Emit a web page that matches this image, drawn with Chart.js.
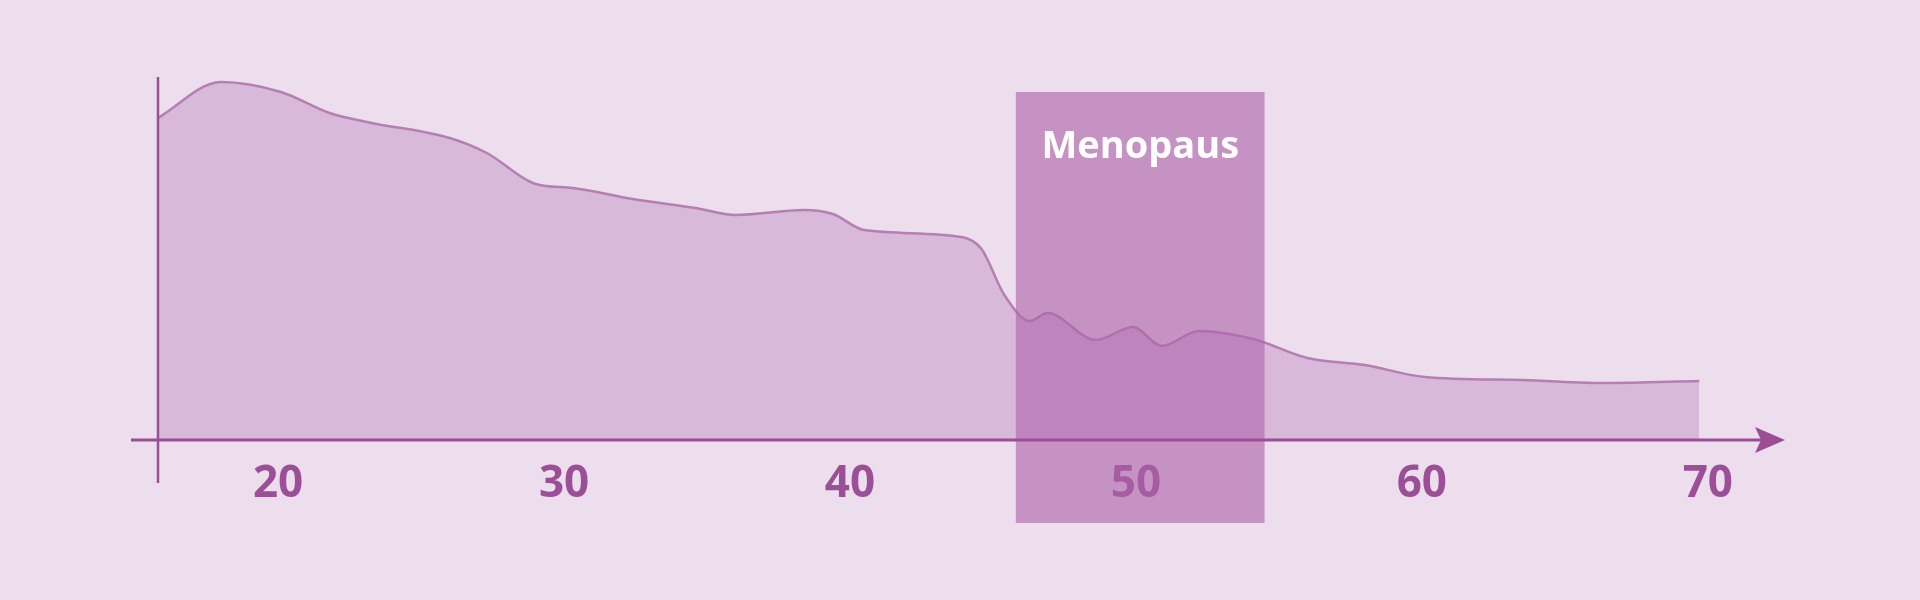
<!DOCTYPE html>
<html>
<head>
<meta charset="utf-8">
<script src="https://cdn.jsdelivr.net/npm/chart.js@4/dist/chart.umd.min.js"></script>
<style>
  html, body { margin: 0; background: #ecdeed; }
  #wrap { width: 1920px; height: 600px; }
</style>
</head>
<body>
<div id="wrap"><canvas id="c"></canvas></div>
<script>
// ages (x) and level (y)
const ages = [15.8, 18.0, 20.1, 21.8, 23.1, 26.0, 27.3, 29.0, 30.3, 32.4, 34.6, 36.0, 38.4, 39.4, 40.5, 43.9, 44.6, 45.4, 46.3, 46.9, 48.6, 49.9, 50.9, 52.2, 54.1, 56.0, 58.0, 60.1, 63.5, 66.5, 69.7];
const levels = [322, 358, 348, 327, 318, 302, 287, 256, 252, 241, 232, 225, 230, 226, 210, 203, 191, 145, 119, 127, 100, 113, 94, 109, 101, 82, 75, 63, 60, 57, 59];
const tickAges = [20, 30, 40, 50, 60, 70];
const menopause = [45.8, 54.5];
const menopauseLabel = 'Menopaus';

const axisColor = '#9b4d96';

const decor = {
    id: 'decor',
    afterDatasetsDraw(chart) {
        const ctx = chart.ctx;
        const x = chart.scales.x, y = chart.scales.y;
        const x0 = x.getPixelForValue(menopause[0]);
        const x1 = x.getPixelForValue(menopause[1]);
        const top = y.getPixelForValue(348);
        const base = y.getPixelForValue(0);
        ctx.save();
        // menopause band
        ctx.fillStyle = 'rgba(172, 100, 170, 0.62)';
        ctx.fillRect(x0, top, x1 - x0, base + 83 - top);
        ctx.fillStyle = '#ffffff';
        ctx.font = 'bold 38px "Open Sans", sans-serif';
        ctx.textAlign = 'center';
        ctx.textBaseline = 'middle';
        ctx.fillText(menopauseLabel, (x0 + x1) / 2, top + 55);
        // axes
        ctx.strokeStyle = axisColor;
        ctx.fillStyle = axisColor;
        ctx.lineWidth = 3;
        const left = x.getPixelForValue(ages[0]);
        ctx.beginPath();
        ctx.moveTo(left - 27, base);
        ctx.lineTo(x.right - 15, base);
        ctx.stroke();
        ctx.lineWidth = 2.5;
        ctx.beginPath();
        ctx.moveTo(left, y.getPixelForValue(363));
        ctx.lineTo(left, base + 43);
        ctx.stroke();
        // arrow head
        ctx.beginPath();
        ctx.moveTo(x.right, base);
        ctx.lineTo(x.right - 30, base - 13);
        ctx.lineTo(x.right - 24, base);
        ctx.lineTo(x.right - 30, base + 13);
        ctx.closePath();
        ctx.fill();
        ctx.restore();
    }
};

new Chart(document.getElementById('c'), {
    type: 'line',
    data: {
        datasets: [{
            data: ages.map((a, i) => ({ x: a, y: levels[i] })),
            borderColor: '#b57fb2',
            borderWidth: 2.5,
            backgroundColor: 'rgba(205, 160, 205, 0.6)',
            fill: 'origin',
            pointRadius: 0,
            cubicInterpolationMode: 'monotone',
        }],
    },
    options: {
        animation: false,
        responsive: true,
        maintainAspectRatio: false,
        layout: { padding: { left: 158, right: 135, top: 40, bottom: 0 } },
        plugins: { legend: { display: false }, tooltip: { enabled: false } },
        scales: {
            x: {
                type: 'linear',
                min: ages[0],
                max: 72.7,
                afterBuildTicks: (s) => { s.ticks = tickAges.map(v => ({ value: v })); },
                grid: { display: false, drawTicks: false },
                border: { display: false },
                ticks: {
                    color: '#9b4f97',
                    font: { family: '"Open Sans", sans-serif', size: 44, weight: 'bold' },
                    padding: 18,
                    maxRotation: 0,
                },
                afterFit: (s) => { s.height = 160; },
            },
            y: {
                display: false,
                min: 0,
                max: 400,
            },
        },
    },
    plugins: [decor],
});
</script>
</body>
</html>
